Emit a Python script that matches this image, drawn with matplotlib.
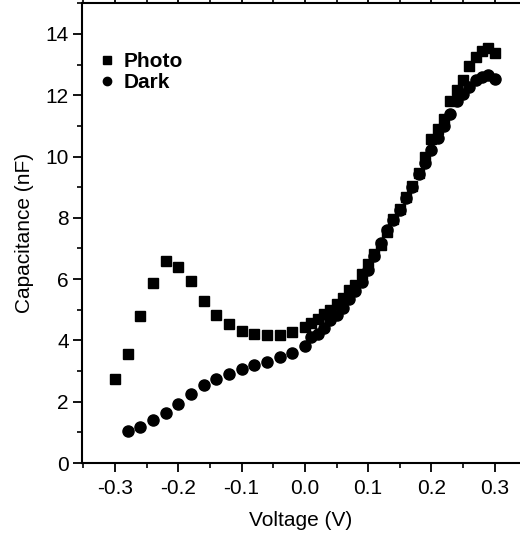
import matplotlib
matplotlib.use("Agg")
import matplotlib.pyplot as plt
from matplotlib.ticker import MultipleLocator

plt.rcParams["font.family"] = ["Liberation Sans", "DejaVu Sans"]

# Photo (squares)
v_photo = [-0.30, -0.28, -0.26, -0.24, -0.22, -0.20, -0.18, -0.16, -0.14, -0.12,
           -0.10, -0.08, -0.06, -0.04, -0.02,
           0.00, 0.01, 0.02, 0.03, 0.04, 0.05, 0.06, 0.07, 0.08, 0.09,
           0.10, 0.11, 0.12, 0.13, 0.14, 0.15, 0.16, 0.17, 0.18, 0.19,
           0.20, 0.21, 0.22, 0.23, 0.24, 0.25, 0.26, 0.27, 0.28, 0.29, 0.30]
c_photo = [2.74, 3.55, 4.80, 5.88, 6.58, 6.40, 5.93, 5.29, 4.82, 4.53,
           4.31, 4.21, 4.17, 4.19, 4.27,
           4.44, 4.57, 4.71, 4.87, 5.00, 5.20, 5.40, 5.63, 5.82, 6.18,
           6.50, 6.83, 7.12, 7.55, 7.95, 8.30, 8.68, 9.05, 9.45, 10.00,
           10.58, 10.90, 11.23, 11.82, 12.17, 12.50, 12.96, 13.23, 13.43, 13.54, 13.37]

# Dark (circles)
v_dark = [-0.28, -0.26, -0.24, -0.22, -0.20, -0.18, -0.16, -0.14, -0.12,
          -0.10, -0.08, -0.06, -0.04, -0.02,
          0.00, 0.01, 0.02, 0.03, 0.04, 0.05, 0.06, 0.07, 0.08, 0.09,
          0.10, 0.11, 0.12, 0.13, 0.14, 0.15, 0.16, 0.17, 0.18, 0.19,
          0.20, 0.21, 0.22, 0.23, 0.24, 0.25, 0.26, 0.27, 0.28, 0.29, 0.30]
c_dark = [1.05, 1.19, 1.39, 1.65, 1.94, 2.25, 2.56, 2.75, 2.92,
          3.07, 3.19, 3.31, 3.45, 3.59,
          3.81, 4.10, 4.22, 4.40, 4.66, 4.82, 5.07, 5.36, 5.61, 5.90,
          6.30, 6.75, 7.18, 7.59, 7.94, 8.26, 8.65, 9.00, 9.44, 9.78,
          10.20, 10.60, 10.98, 11.40, 11.80, 12.04, 12.26, 12.48, 12.58, 12.66, 12.53]

fig = plt.figure(figsize=(5.2, 5.36), dpi=100)
ax = fig.add_axes([0.158, 0.136, 0.842, 0.858])

ax.plot(v_photo, c_photo, "s", color="black", ms=7.2, label="Photo")
ax.plot(v_dark, c_dark, "o", color="black", ms=8, label="Dark")

ax.set_xlim(-0.352, 0.34)
ax.set_ylim(0, 15)

ax.xaxis.set_minor_locator(MultipleLocator(0.05))
ax.yaxis.set_major_locator(MultipleLocator(2))
ax.yaxis.set_minor_locator(MultipleLocator(1))
ax.set_xticks([-0.3, -0.2, -0.1, 0.0, 0.1, 0.2, 0.3])
ax.set_xticklabels(["-0.3", "-0.2", "-0.1", "0.0", "0.1", "0.2", "0.3"])

ax.spines["right"].set_visible(False)
for s in ["left", "bottom", "top"]:
    ax.spines[s].set_linewidth(1.5)

ax.tick_params(axis="both", which="major", direction="out", length=6.5, width=1.3,
               labelsize=15, pad=3)
ax.tick_params(axis="x", which="major", pad=5)
ax.tick_params(axis="both", which="minor", direction="out", length=3.5, width=1.2)
ax.tick_params(axis="x", which="both", top=True, labeltop=False)

ax.set_xlabel("Voltage (V)", fontsize=15, labelpad=9)
ax.set_ylabel("Capacitance (nF)", fontsize=15, labelpad=8)

ax.legend(loc="upper left", bbox_to_anchor=(0.01, 0.925), frameon=False,
          prop={"weight": "bold", "size": 15}, markerscale=0.75,
          handlelength=0.6, handletextpad=0.5, labelspacing=0.1,
          borderpad=0.2)

fig.savefig("out.png", dpi=100)
